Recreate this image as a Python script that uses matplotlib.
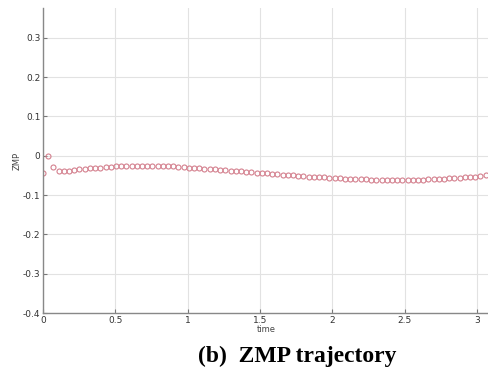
import matplotlib
matplotlib.use("Agg")
import matplotlib.pyplot as plt
import numpy as np

# sampled ZMP trajectory (time step 0.036 s)
dt = 0.036
zmp = [
    -0.043, 0.000, -0.028, -0.038, -0.039, -0.038, -0.037, -0.035, -0.034, -0.032,
    -0.031, -0.030, -0.029, -0.028, -0.027, -0.027, -0.026, -0.026, -0.025, -0.025,
    -0.025, -0.025, -0.026, -0.026, -0.027, -0.027, -0.028, -0.029, -0.030, -0.031,
    -0.032, -0.033, -0.034, -0.035, -0.036, -0.037, -0.038, -0.039, -0.040, -0.041,
    -0.042, -0.043, -0.044, -0.045, -0.046, -0.047, -0.048, -0.049, -0.050, -0.051,
    -0.052, -0.053, -0.054, -0.055, -0.055, -0.056, -0.057, -0.057, -0.058, -0.059,
    -0.059, -0.060, -0.060, -0.061, -0.061, -0.061, -0.062, -0.062, -0.062, -0.062,
    -0.062, -0.062, -0.061, -0.061, -0.060, -0.060, -0.059, -0.058, -0.057, -0.057,
    -0.056, -0.055, -0.054, -0.053, -0.051, -0.049, -0.047,
]
time = np.arange(len(zmp)) * dt

xticks = [0, 0.5, 1, 1.5, 2, 2.5, 3]
xtick_labels = ["0", "0.5", "1", "1.5", "2", "2.5", "3"]
yticks = [-0.4, -0.3, -0.2, -0.1, 0, 0.1, 0.2, 0.3]
ytick_labels = ["-0.4", "-0.3", "-0.2", "-0.1", "0", "0.1", "0.2", "0.3"]

fig = plt.figure(figsize=(4.89, 3.71), dpi=100)
ax = fig.add_axes([0.088, 0.156, 0.912, 0.822])

ax.plot(time, zmp, linestyle="none", marker="o", markersize=3.6,
        markerfacecolor="none", markeredgecolor="#d4808e", markeredgewidth=0.8)

ax.set_xlim(0, 3.083)
ax.set_ylim(-0.4, 0.375)
ax.set_xticks(xticks)
ax.set_xticklabels(xtick_labels)
ax.set_yticks(yticks)
ax.set_yticklabels(ytick_labels)
ax.grid(True, color="#e2e2e2", linewidth=0.8)
ax.set_axisbelow(True)

ax.tick_params(direction="in", length=3, width=0.8, color="#777777",
               labelsize=6.5, labelcolor="#333333", pad=2)
for side in ["top", "right"]:
    ax.spines[side].set_visible(False)
for side in ["left", "bottom"]:
    ax.spines[side].set_color("#888888")
    ax.spines[side].set_linewidth(1.0)

ax.set_xlabel("time", fontsize=6, color="#444444", labelpad=0)
ax.set_ylabel("ZMP", fontsize=6, color="#444444", labelpad=1)

fig.text(0.607, 0.038, "(b)  ZMP trajectory", family="Liberation Serif",
         fontweight="bold", fontsize=17, ha="center", va="center")

fig.savefig("out.png", dpi=100)
